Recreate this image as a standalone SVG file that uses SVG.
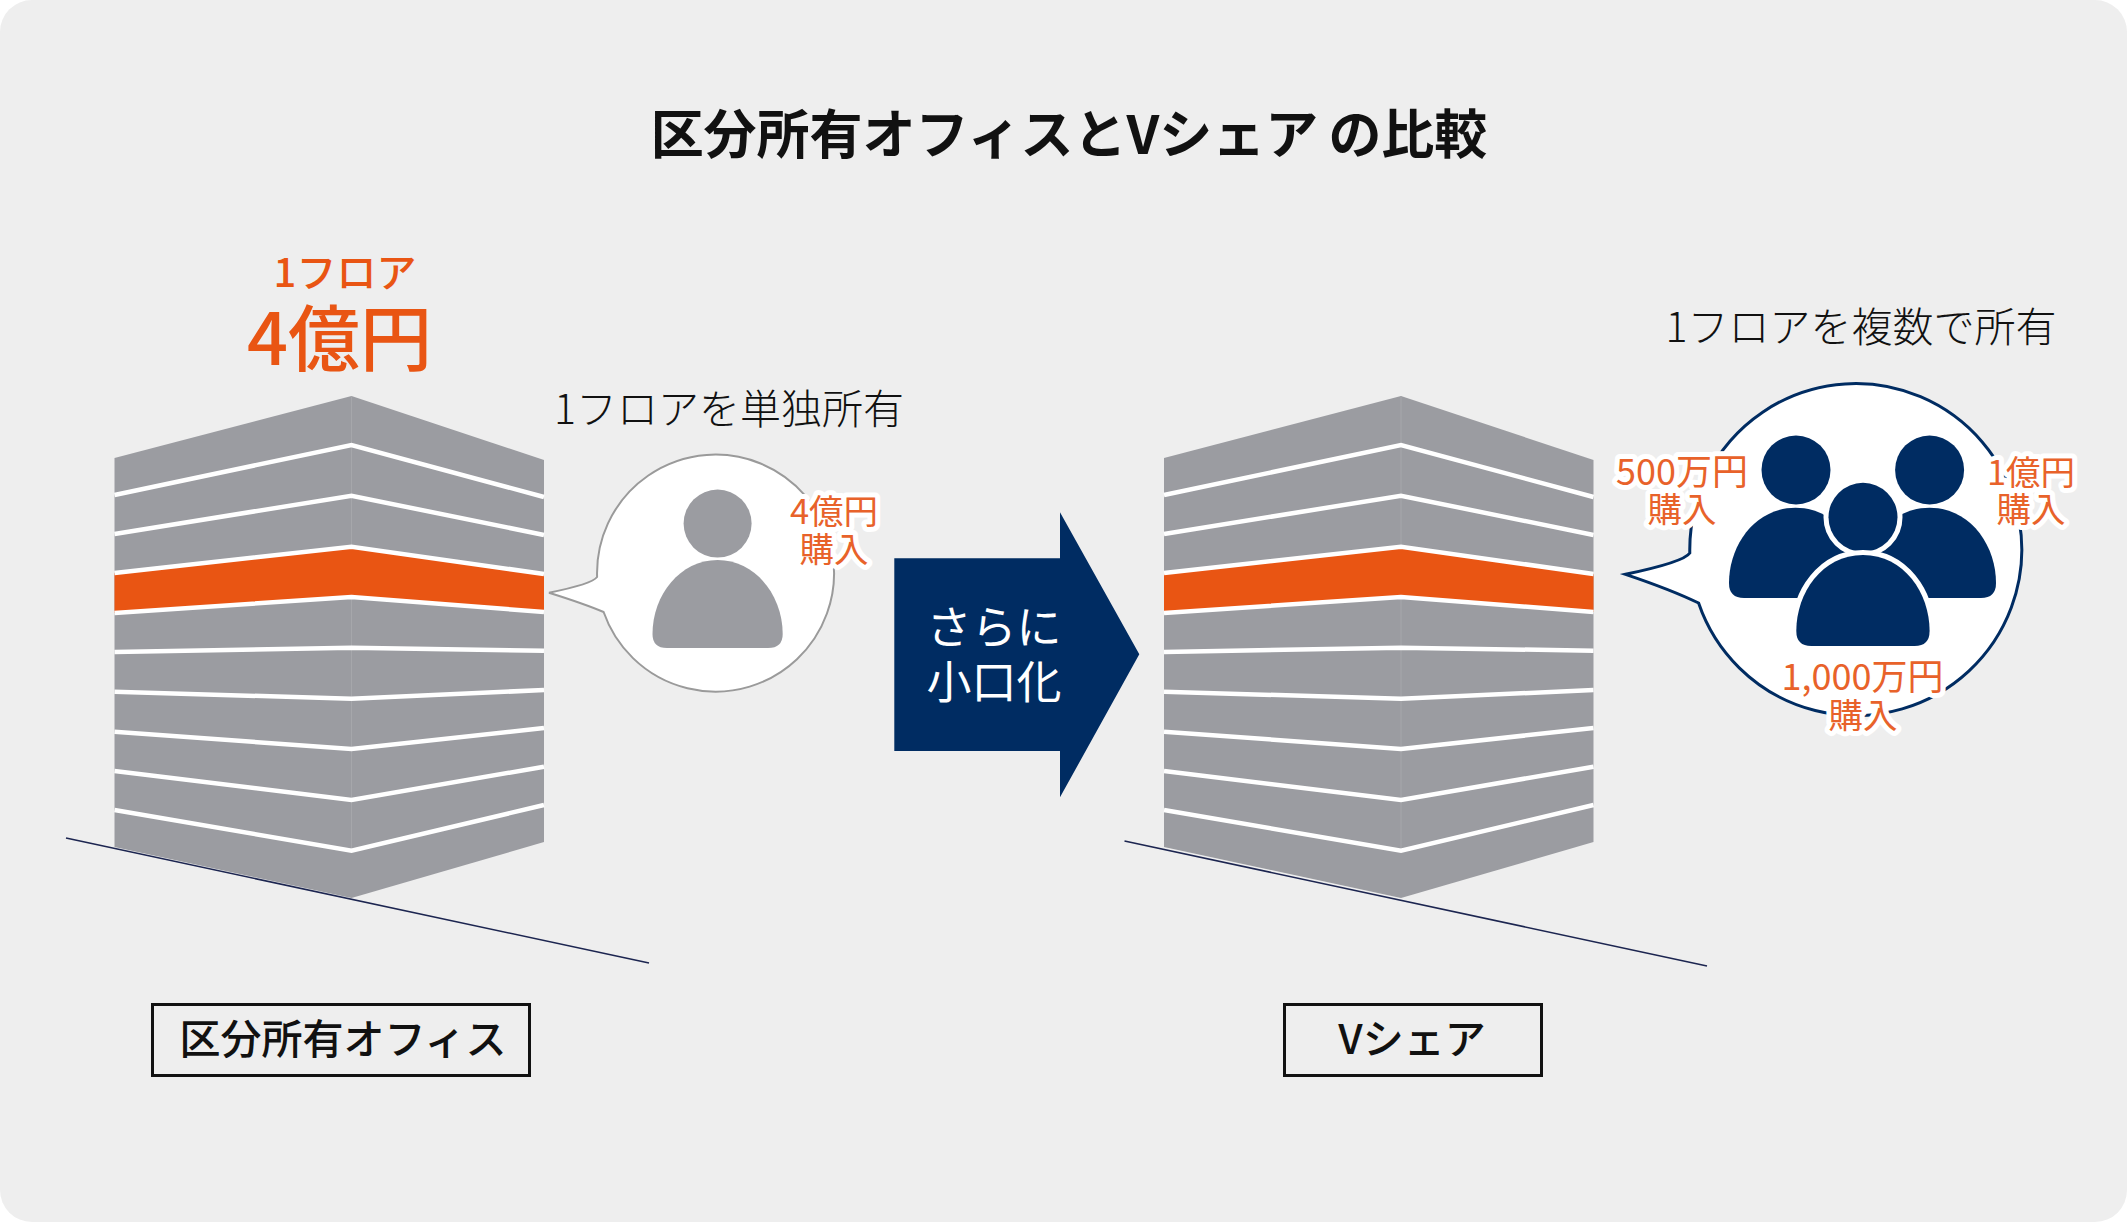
<svg xmlns="http://www.w3.org/2000/svg" width="2127" height="1222" viewBox="0 0 2127 1222">
<style>
text{font-family:"Noto Sans CJK JP","Noto Sans",sans-serif;text-anchor:middle}
.blk{fill:#111}
.lt{font-size:41px;font-weight:300;fill:#111}
.org{fill:#e95513}
.lab{font-size:34.5px;font-weight:400;fill:#e8622a;stroke:#fff;stroke-width:10px;stroke-linejoin:round;paint-order:stroke}
.wide{font-size:36px}
.floor{fill:none;stroke:#fff;stroke-width:4.5}
.navy{fill:#002c62}
.ring{stroke:#fff;stroke-width:10;paint-order:stroke}
.box{fill:none;stroke:#111;stroke-width:3}
.ground{stroke:#1c2550;stroke-width:1.6}
</style>
<defs>
<g id="bldg">
<polygon fill="#9b9ca1" points="114.5,458 351.5,396 544,460 544,842 351.5,898 114.5,847"/>
<line x1="351.5" y1="396" x2="351.5" y2="850" stroke="#a6a7ab" stroke-width="1"/>
<polygon fill="#e95513" points="114.5,573 351.5,546.7 544,574 544,612 351.5,597 114.5,613"/>
<polyline class="floor" points="114.5,495 351.5,445 544,497"/>
<polyline class="floor" points="114.5,534 351.5,495.7 544,535"/>
<polyline class="floor" points="114.5,573 351.5,546.7 544,574"/>
<polyline class="floor" points="114.5,613 351.5,597 544,612"/>
<polyline class="floor" points="114.5,652 351.5,647.7 544,650.7"/>
<polyline class="floor" points="114.5,691.7 351.5,698.7 544,690"/>
<polyline class="floor" points="114.5,731.7 351.5,749 544,728"/>
<polyline class="floor" points="114.5,771 351.5,800 544,766.7"/>
<polyline class="floor" points="114.5,810 351.5,850.7 544,805"/>
</g>
</defs>
<rect x="0" y="0" width="2127" height="1222" rx="32" fill="#eeeeee"/>
<text id="title" x="1069" y="154" font-size="53" font-weight="700" class="blk">区分所有オフィスとVシェア<tspan dx="10">の比較</tspan></text>

<g id="building-a"><use href="#bldg"/></g>
<g id="building-b"><use href="#bldg" x="1049.5"/></g>
<g id="connectors">
<line class="ground" x1="66" y1="838" x2="649" y2="963"/>
<line class="ground" x1="1124.5" y1="841" x2="1707" y2="966"/>
</g>

<g id="price-a">
<text x="345" y="287" font-size="40" font-weight="500" class="org">1フロア</text>
<text x="339.5" y="365" font-size="72" font-weight="500" class="org">4億円</text>
</g>

<g id="callout-a">
<text class="lt" x="729" y="424">1フロアを単独所有</text>
<path d="M597.1,577 A118.5,118.5 0 1 1 603.6,612 Q585,604 549,592.7 Q592,584 597.1,577Z" fill="#fff" stroke="#9a9a9a" stroke-width="2"/>
<circle cx="717.6" cy="523.6" r="34" fill="#9b9ca1"/>
<path d="M652.5,634 C652.5,595 680,560 717.6,560 C755,560 782.7,595 782.7,634 Q782.7,648 768,648 H667 Q652.5,648 652.5,634Z" fill="#9b9ca1"/>
<text class="lab" x="834" y="524">4億円</text>
<text class="lab" x="834" y="562">購入</text>
</g>

<g id="arrow">
<polygon class="navy" points="894.3,558.3 1060,558.3 1060,512.3 1139.3,654.3 1060,797.3 1060,751 894.3,751"/>
<text x="994" y="644" font-size="45" font-weight="400" fill="#fff">さらに</text>
<text x="994" y="699" font-size="45" font-weight="400" fill="#fff">小口化</text>
</g>

<g id="callout-b">
<text class="lt" x="1861" y="342">1フロアを複数で所有</text>
<path d="M1689.8,553 A166,166 0 1 1 1698.6,603 Q1672,590 1625.5,574.3 Q1684,562 1689.8,553Z" fill="#fff" stroke="#002c62" stroke-width="3"/>
<circle class="navy" cx="1796" cy="470" r="34.5"/>
<circle class="navy" cx="1929.6" cy="470" r="34.5"/>
<path class="navy" d="M1729,583 C1729,545 1755,507.7 1795.5,507.7 C1836,507.7 1862,545 1862,583 Q1862,598 1847,598 H1744 Q1729,598 1729,583Z"/>
<path class="navy" d="M1863,583 C1863,545 1889,507.7 1929.5,507.7 C1970,507.7 1996,545 1996,583 Q1996,598 1981,598 H1878 Q1863,598 1863,583Z"/>
<circle class="navy ring" cx="1863" cy="517.3" r="34.5"/>
<path class="navy ring" d="M1796.3,631 C1796.3,593 1822,555 1863,555 C1904,555 1929.6,593 1929.6,631 Q1929.6,646 1914.6,646 H1811.3 Q1796.3,646 1796.3,631Z"/>
<text class="lab wide" x="1682" y="485">500万円</text>
<text class="lab" x="1682" y="522">購入</text>
<text class="lab" x="2031" y="485">1億円</text>
<text class="lab" x="2031" y="522">購入</text>
<text class="lab wide" x="1862.5" y="690">1,000万円</text>
<text class="lab" x="1863" y="728">購入</text>
</g>

<g id="label-a">
<rect class="box" x="152.5" y="1004.5" width="377" height="71"/>
<text x="343" y="1054" font-size="41" font-weight="500" class="blk">区分所有オフィス</text>
</g>
<g id="label-b">
<rect class="box" x="1284.5" y="1004.5" width="257" height="71"/>
<text x="1412" y="1054" font-size="41" font-weight="500" class="blk">Vシェア</text>
</g>
</svg>
